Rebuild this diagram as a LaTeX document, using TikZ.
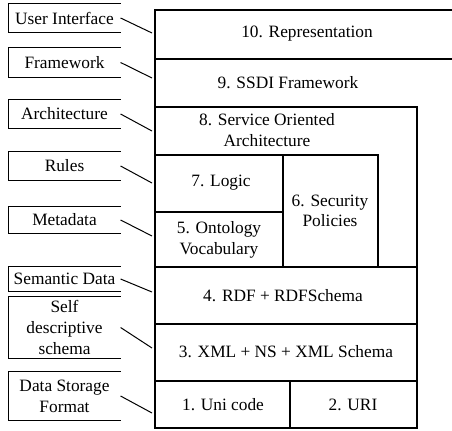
\documentclass[tikz,border=0pt]{standalone}
\usepackage{fontspec}
\setmainfont{Liberation Serif}
\begin{document}
\begin{tikzpicture}[x=0.75pt,y=-0.75pt,line width=0.9pt,
  txt/.style={font=\fontsize{13}{15.5}\selectfont,align=center,inner sep=0pt},
  tag/.style={txt,minimum width=83.25pt}]
\useasboundingbox (0,0) rectangle (452,430);
\clip (0,0) rectangle (452,430);

% layer stack
\draw (470,10) -- (155,10) -- (155,428) -- (417,428) -- (417,107) -- (155,107);
\draw (155,59) -- (470,59);
\draw (155,155) rectangle (378,267);
\draw (155,212) -- (283,212);
\draw (283,155) -- (283,267);
\draw (155,267) -- (417,267);
\draw (155,324) -- (417,324);
\draw (155,381) -- (417,381);
\draw (290,381) -- (290,428);

\node[txt] (l10) at (307,34) {10. Representation};
\node[txt] (l9) at (288,83) {9. SSDI Framework};
\node[txt] (l8) at (267,130) {8. Service Oriented\\Architecture};
\node[txt] (l7) at (221,183) {7. Logic};
\node[txt] (l5) at (219,240) {5. Ontology\\Vocabulary};
\node[txt] (l6) at (330,211) {6. Security\\Policies};
\node[txt] (l4) at (283,296) {4. RDF + RDFSchema};
\node[txt] (l3) at (286,352) {3. XML + NS + XML Schema};
\node[txt] (l1) at (223,405) {1. Uni code};
\node[txt] (l2) at (353,405) {2. URI};

% labels on the left
\node[tag,minimum height=21pt] (ui) at (64.5,18) {User Interface};
\node[tag,minimum height=21.75pt] (fw) at (64.5,62.5) {Framework};
\node[tag,minimum height=21pt] (arch) at (64.5,114) {Architecture};
\node[tag,minimum height=21pt] (rules) at (64.5,166) {Rules};
\node[tag,minimum height=19.5pt] (meta) at (64.5,220) {Metadata};
\node[tag,minimum height=18pt] (sem) at (64.5,279) {Semantic Data};
\node[tag,minimum height=45.75pt] (self) at (64.5,327.5) {Self\\descriptive\\schema};
\node[tag,minimum height=36pt] (store) at (64.5,396) {Data Storage\\Format};

\coordinate (ui-end) at (152,33);
\coordinate (fw-end) at (152,78);
\coordinate (arch-end) at (152,131);
\coordinate (rules-end) at (152,183);
\coordinate (meta-end) at (152,236);
\coordinate (sem-end) at (152,292);
\coordinate (self-end) at (152,348);
\coordinate (store-end) at (152,413);

\foreach \t in {ui,fw,arch,rules,meta,sem,self,store} {
  \draw[line width=0.75pt] (\t.north east) -- (\t.north west) -- (\t.south west) -- (\t.south east);
  \draw[line width=0.75pt] (\t.east) -- (\t-end);
}
\end{tikzpicture}
\end{document}
